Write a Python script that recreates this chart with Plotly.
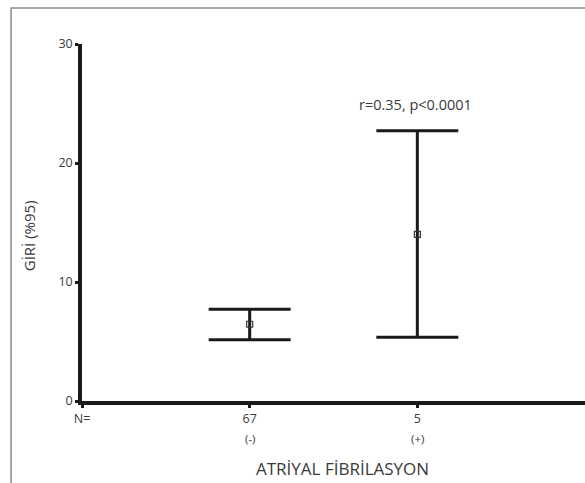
import plotly.graph_objects as go

# Data
groups = ["(-)", "(+)"]
n_labels = ["67", "5"]
means = [6.45, 14.0]
upper = [7.7, 22.7]
lower = [5.15, 5.35]
y_ticks = [0, 10, 20, 30]
annotation_text = "r=0.35, p<0.0001"

xpos = [1, 2]
err_plus = [u - m for u, m in zip(upper, means)]
err_minus = [m - l for m, l in zip(means, lower)]

FONT = "Open Sans"
TXT = "#3a3a3a"
fig = go.Figure()
fig.add_trace(go.Scatter(
    x=xpos, y=means, mode="markers",
    marker=dict(symbol="square-open", size=6, color="#333333", line=dict(width=1.2)),
    error_y=dict(type="data", symmetric=False, array=err_plus, arrayminus=err_minus,
                 color="#1a1a1a", thickness=3, width=41),
    showlegend=False, hoverinfo="skip",
))

for x, g in zip(xpos, groups):
    fig.add_annotation(x=x, y=-0.104, xref="x", yref="paper", text=g, showarrow=False,
                       yanchor="middle", xanchor="center",
                       font=dict(family=FONT, size=11.5, color=TXT))

fig.add_annotation(x=1.99, y=24.9, xref="x", yref="y", text=annotation_text, showarrow=False,
                   yanchor="middle", xanchor="center",
                   font=dict(family=FONT, size=14.5, color=TXT))
fig.add_annotation(x=0.517, y=-0.19, xref="paper", yref="paper", text="ATRİYAL FİBRİLASYON",
                   showarrow=False, yanchor="middle", xanchor="center",
                   font=dict(family=FONT, size=17, color=TXT))
fig.add_annotation(x=-0.105, y=0.462, xref="paper", yref="paper", text="GİRİ (%95)", textangle=-90,
                   showarrow=False, yanchor="middle", xanchor="center",
                   font=dict(family=FONT, size=15, color=TXT))

fig.add_shape(type="rect", xref="paper", yref="paper", x0=-0.141, x1=1.2, y0=-0.6, y1=1.101,
              line=dict(color="#8a8a8a", width=1.5), layer="below")

fig.update_layout(
    width=585, height=483,
    margin=dict(l=82, r=0, t=44, b=82),
    paper_bgcolor="white", plot_bgcolor="white",
    xaxis=dict(range=[0, 3], tickvals=[0] + xpos, ticktext=["N="] + n_labels,
               showline=True, linecolor="#1a1a1a", linewidth=3.5, showgrid=False, zeroline=False,
               ticks="outside", ticklen=3, tickwidth=3, tickcolor="#1a1a1a",
               tickfont=dict(family=FONT, size=12.5, color=TXT)),
    yaxis=dict(range=[0, 30], tickvals=y_ticks, showline=True, linecolor="#1a1a1a", linewidth=3.5,
               showgrid=False, zeroline=False, ticks="outside", ticklen=3, tickwidth=3,
               tickcolor="#1a1a1a", tickfont=dict(family=FONT, size=12.5, color=TXT)),
)
fig.write_html("out.html", config={"displayModeBar": False},
               post_script="document.body.style.margin='0px';")
